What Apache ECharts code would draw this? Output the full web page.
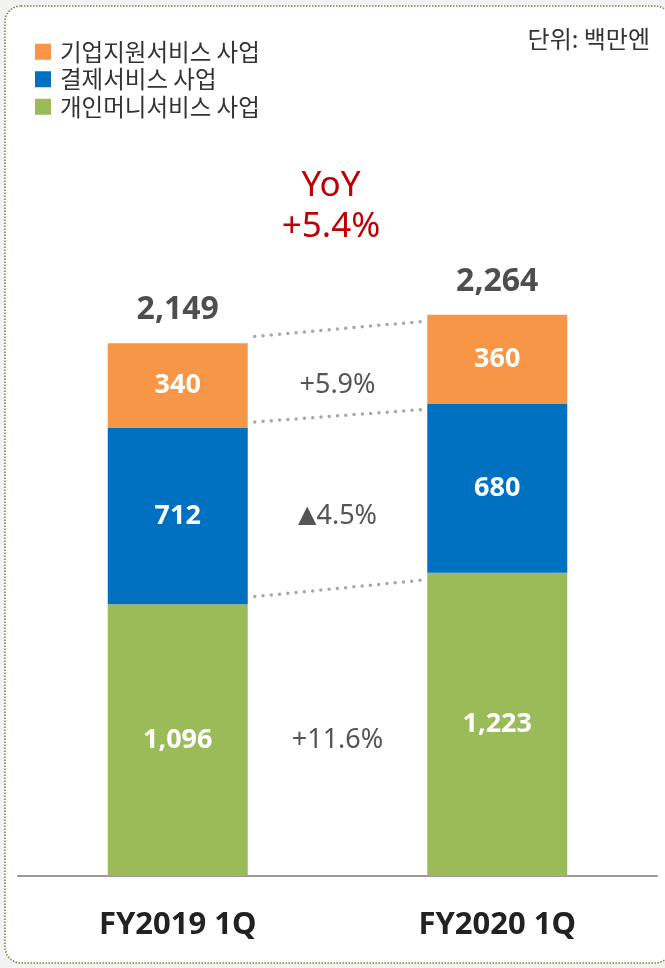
<!DOCTYPE html>
<html>
<head>
    <meta charset="utf-8"/>
    <title>사업별 매출</title>
    <script src="https://cdn.jsdelivr.net/npm/echarts@6/dist/echarts.min.js"></script>
    <style>
        html, body {
            margin: 0;
            padding: 0;
            background: #f2f2f2;
        }
        #chart {
            width: 665px;
            height: 968px;
        }
    </style>
</head>
<body>
<div id="chart"></div>
<script>
    // 데이터
    var categories = ['FY2019 1Q', 'FY2020 1Q'];
    var seriesNames = ['기업지원서비스 사업', '결제서비스 사업', '개인머니서비스 사업'];
    var personal = [1096, 1223];   // 개인머니서비스
    var payment = [712, 680];      // 결제서비스
    var corporate = [340, 360];    // 기업지원서비스
    var totals = [2149, 2264];
    var changeLabels = ['+5.9%', '▲4.5%', '+11.6%']; // 기업지원, 결제, 개인머니 순
    var yoyText = ['YoY', '+5.4%'];
    var unitText = '단위: 백만엔';

    var colors = {
        corporate: '#f79646',
        payment: '#0070c0',
        personal: '#9bbb59'
    };

    function fmt(v) {
        return v.toString().replace(/\B(?=(\d{3})+(?!\d))/g, ',');
    }

    var BAR_W = 140;
    var cjk = '"Noto Sans CJK KR", "Noto Sans", sans-serif';

    // 연결선용: 각 구간 상단 누적값 [왼쪽, 오른쪽], 라벨 위치 = 왼쪽 구간 중앙
    var links = [
        [personal[0] + payment[0] + corporate[0], personal[1] + payment[1] + corporate[1],
            personal[0] + payment[0] + corporate[0] / 2],
        [personal[0] + payment[0], personal[1] + payment[1],
            personal[0] + payment[0] / 2],
        [personal[0], personal[1], personal[0] / 2]
    ];

    var segLabel = {
        show: true,
        position: 'inside',
        color: '#fff',
        fontSize: 27,
        fontWeight: 'bold',
        fontFamily: 'Noto Sans',
        formatter: function (p) { return fmt(p.value); }
    };

    var chart = echarts.init(document.getElementById('chart'));
    var option = {
        backgroundColor: '#f2f2f2',
        animation: false,
        graphic: [
            {
                type: 'rect',
                shape: {x: 5, y: 6, width: 666, height: 957, r: 16},
                style: {fill: '#fff', stroke: '#6f8a35', lineWidth: 1.5, lineDash: [1.5, 1.5]},
                z: -10
            },
            {
                type: 'text',
                x: 331, y: 166,
                style: {
                    text: yoyText.join('\n'),
                    fill: '#c00000',
                    font: '35px "Noto Sans", sans-serif',
                    lineHeight: 41,
                    align: 'center'
                }
            },
            {
                type: 'text',
                right: 15, top: 27,
                style: {text: unitText, fill: '#333', font: '24px ' + cjk}
            }
        ],
        legend: {
            orient: 'vertical',
            left: 30,
            top: 35,
            itemWidth: 16,
            itemHeight: 16,
            itemGap: 4,
            icon: 'rect',
            data: seriesNames,
            textStyle: {fontSize: 23.5, lineHeight: 22, color: '#333', fontFamily: cjk, padding: [0, 0, 0, 4]}
        },
        grid: {left: 18, right: 8, top: 132, bottom: 92, containLabel: false},
        xAxis: {
            type: 'category',
            data: categories,
            axisLine: {lineStyle: {color: '#999', width: 2}},
            axisTick: {show: false},
            axisLabel: {
                margin: 34,
                fontSize: 31,
                fontWeight: 'bold',
                color: '#222',
                fontFamily: 'Noto Sans'
            }
        },
        yAxis: {
            type: 'value',
            min: 0,
            max: 3000,
            show: false,
            splitLine: {show: false}
        },
        series: [
            {
                name: seriesNames[2], type: 'bar', stack: 'total', barWidth: BAR_W,
                itemStyle: {color: colors.personal},
                label: segLabel,
                data: personal
            },
            {
                name: seriesNames[1], type: 'bar', stack: 'total', barWidth: BAR_W,
                itemStyle: {color: colors.payment},
                label: segLabel,
                data: payment
            },
            {
                name: seriesNames[0], type: 'bar', stack: 'total', barWidth: BAR_W,
                itemStyle: {color: colors.corporate},
                label: segLabel,
                data: corporate
            },
            {
                // 합계 라벨
                type: 'scatter', symbolSize: 0, silent: true,
                data: totals.map(function (v, i) { return [i, v]; }),
                label: {
                    show: true,
                    position: 'top',
                    distance: 17,
                    color: '#222',
                    fontSize: 32,
                    fontWeight: 'bold',
                    fontFamily: 'Noto Sans',
                    formatter: function (p) { return fmt(totals[p.dataIndex]); }
                }
            },
            {
                // 점선 연결 + 증감률
                type: 'custom', silent: true,
                data: links,
                renderItem: function (params, api) {
                    var a = api.coord([0, api.value(0)]);
                    var b = api.coord([1, api.value(1)]);
                    var my = api.coord([0, api.value(2)])[1];
                    var mx = (a[0] + b[0]) / 2;
                    var x1 = a[0] + BAR_W / 2 + 7;
                    var x2 = b[0] - BAR_W / 2 - 3;
                    var t = (x1 - a[0]) / (b[0] - a[0]);
                    var t2 = (x2 - a[0]) / (b[0] - a[0]);
                    var txt = changeLabels[params.dataIndex];
                    if (txt.charAt(0) === '▲') {
                        txt = '{tri|▲}' + txt.slice(1);
                    }
                    return {
                        type: 'group',
                        children: [
                            {
                                type: 'line',
                                shape: {
                                    x1: x1, y1: a[1] + (b[1] - a[1]) * t,
                                    x2: x2, y2: a[1] + (b[1] - a[1]) * t2
                                },
                                style: {stroke: '#a6a6a6', lineWidth: 3.5, lineDash: [0, 8.3], lineCap: 'round'}
                            },
                            {
                                type: 'text',
                                x: mx, y: my,
                                style: {
                                    text: txt,
                                    fill: '#555',
                                    fontSize: 27,
                                    fontFamily: 'Noto Sans',
                                    align: 'center',
                                    verticalAlign: 'middle',
                                    rich: {
                                        tri: {fontSize: 24, fontFamily: 'DejaVu Sans', fill: '#555'}
                                    }
                                }
                            }
                        ]
                    };
                }
            }
        ]
    };
    chart.setOption(option);

    window.onresize = function () {
        chart.resize();
    };
</script>
</body>
</html>
